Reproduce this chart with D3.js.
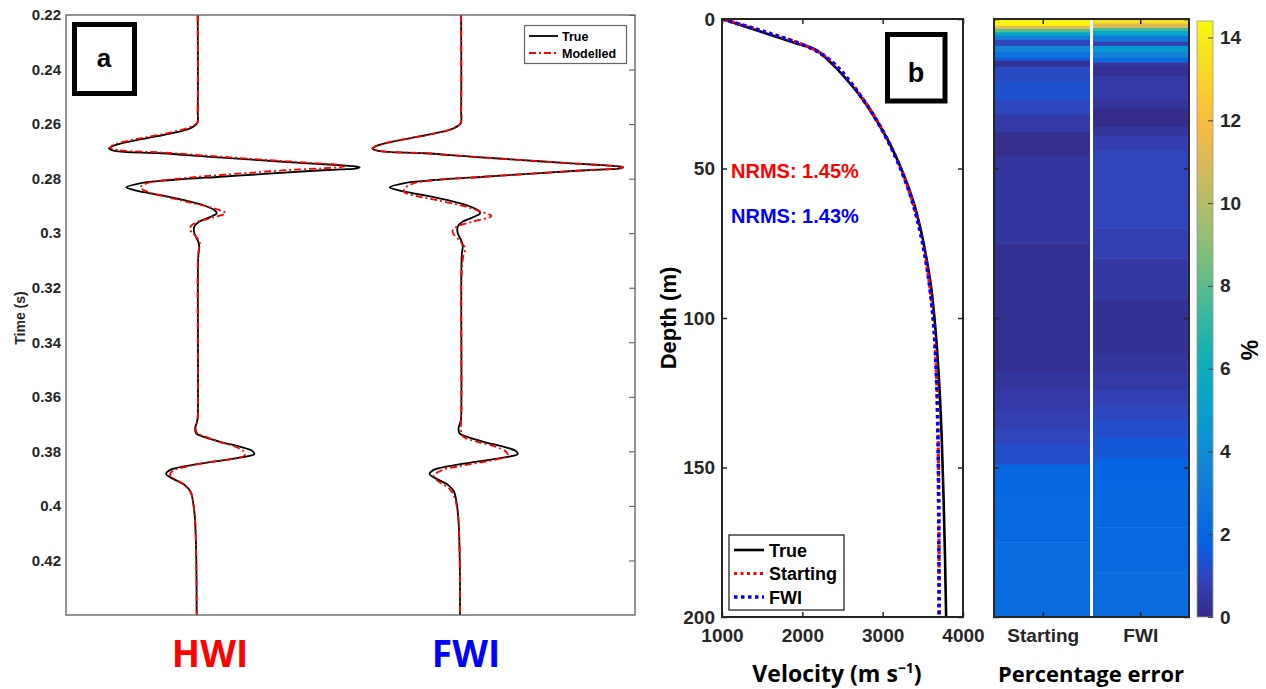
<!DOCTYPE html>
<html>
<head>
<meta charset="utf-8">
<script src="https://cdn.jsdelivr.net/npm/d3@7"></script>
<style>
  html, body { margin: 0; padding: 0; background: #fff; }
  svg { display: block; }
  text { font-family: "Liberation Sans", Arial, Helvetica, sans-serif; font-weight: bold; fill: #262626; }
  .title { font-family: "Open Sans", "Liberation Sans", sans-serif; fill: #000; }
</style>
</head>
<body>
<svg id="fig" width="1266" height="689"></svg>
<script>
// ---------------- data ----------------
// (a) seismic traces: time (s) and normalised amplitude
const traceNames = ["HWI", "FWI"];
const traceOffsets = [1, 2];
const timeTicks = [0.22, 0.24, 0.26, 0.28, 0.30, 0.32, 0.34, 0.36, 0.38, 0.40, 0.42];
const timeTickLabels = ["0.22", "0.24", "0.26", "0.28", "0.3", "0.32", "0.34", "0.36", "0.38", "0.4", "0.42"];

const trueTime = [0.22, 0.255, 0.2597, 0.2616, 0.2634, 0.2652, 0.2671, 0.2683, 0.2689, 0.2698, 0.2707, 0.2720, 0.2732, 0.2744, 0.2750, 0.2754, 0.2758, 0.2762, 0.2766, 0.2771, 0.2781, 0.2793, 0.2805, 0.2817, 0.2832, 0.2844, 0.2860, 0.2878, 0.2897, 0.2915, 0.2927, 0.2942, 0.2958, 0.2976, 0.2995, 0.3013, 0.3031, 0.3050, 0.3074, 0.312, 0.360, 0.3685, 0.3716, 0.3734, 0.3746, 0.3765, 0.3783, 0.3798, 0.3810, 0.3822, 0.3838, 0.3853, 0.3868, 0.3883, 0.3899, 0.3923, 0.3948, 0.3978, 0.4040, 0.4162, 0.44];
const trueAmp  = [0, 0, -0.002, -0.03, -0.10, -0.195, -0.29, -0.328, -0.337, -0.315, -0.137, 0.048, 0.233, 0.418, 0.53, 0.59, 0.615, 0.605, 0.545, 0.44, 0.283, 0.086, -0.10, -0.22, -0.271, -0.233, -0.145, -0.055, 0.02, 0.063, 0.072, 0.044, 0.005, -0.013, -0.014, -0.007, 0.002, 0.006, 0.003, 0.001, 0.001, -0.001, -0.010, -0.006, 0.021, 0.085, 0.160, 0.206, 0.215, 0.165, 0.060, -0.040, -0.104, -0.120, -0.097, -0.050, -0.027, -0.019, -0.011, -0.006, -0.004];

const hwiModTime = [0.22, 0.255, 0.2595, 0.2613, 0.2631, 0.2649, 0.2667, 0.2680, 0.2686, 0.2695, 0.2704, 0.2716, 0.2728, 0.2740, 0.2746, 0.2750, 0.2754, 0.2758, 0.2762, 0.2767, 0.2777, 0.2790, 0.2803, 0.2816, 0.2832, 0.2848, 0.2866, 0.2885, 0.2903, 0.2918, 0.2927, 0.2942, 0.2958, 0.2973, 0.2986, 0.3001, 0.3020, 0.3037, 0.3055, 0.309, 0.360, 0.3685, 0.3716, 0.3734, 0.3746, 0.3765, 0.3783, 0.3801, 0.3814, 0.3826, 0.3841, 0.3856, 0.3872, 0.3890, 0.3905, 0.3929, 0.3957, 0.3985, 0.4040, 0.4162, 0.44];
const hwiModAmp  = [0, 0, -0.002, -0.035, -0.105, -0.20, -0.29, -0.327, -0.332, -0.305, -0.14, 0.04, 0.21, 0.39, 0.49, 0.545, 0.56, 0.54, 0.48, 0.37, 0.22, 0.04, -0.10, -0.19, -0.218, -0.19, -0.123, -0.04, 0.04, 0.09, 0.106, 0.06, 0.0, -0.025, -0.030, -0.018, 0.0, 0.008, 0.005, 0.001, 0.001, -0.001, -0.008, -0.002, 0.028, 0.082, 0.144, 0.175, 0.179, 0.144, 0.036, -0.042, -0.096, -0.104, -0.080, -0.045, -0.023, -0.018, -0.011, -0.006, -0.004];

const fwiModTime = [0.22, 0.255, 0.2597, 0.2616, 0.2634, 0.2652, 0.2671, 0.2683, 0.2689, 0.2698, 0.2707, 0.2720, 0.2732, 0.2744, 0.2750, 0.2754, 0.2758, 0.2762, 0.2766, 0.2771, 0.2781, 0.2793, 0.2805, 0.2817, 0.2832, 0.2848, 0.2866, 0.2878, 0.2903, 0.2921, 0.2937, 0.2958, 0.2978, 0.2995, 0.3025, 0.3055, 0.3086, 0.314, 0.360, 0.3685, 0.3728, 0.3746, 0.3765, 0.3783, 0.3801, 0.3816, 0.3830, 0.3849, 0.3868, 0.3890, 0.3911, 0.3936, 0.3966, 0.4040, 0.4162, 0.44];
const fwiModAmp  = [0, 0, -0.002, -0.03, -0.10, -0.195, -0.29, -0.328, -0.337, -0.315, -0.137, 0.048, 0.233, 0.418, 0.53, 0.59, 0.615, 0.605, 0.545, 0.44, 0.283, 0.086, -0.10, -0.18, -0.21, -0.217, -0.16, -0.096, 0.018, 0.075, 0.115, 0.043, -0.02, -0.033, -0.008, 0.015, 0.008, 0.002, 0.001, 0.0, 0.0, 0.008, 0.062, 0.131, 0.170, 0.178, 0.131, 0.023, -0.070, -0.104, -0.085, -0.046, -0.026, -0.011, -0.006, -0.004];

// (b) velocity profiles: depth (m) and velocity (m/s)
const depthSamples = [0, 2, 5, 8, 10, 12, 15, 20, 25, 30, 40, 50, 60, 70, 80, 90, 100, 120, 140, 160, 180, 200];
const vTrue     = [1000, 1230, 1570, 1910, 2150, 2250, 2370, 2545, 2700, 2830, 3055, 3230, 3370, 3470, 3545, 3605, 3645, 3700, 3735, 3758, 3776, 3790];
const vStarting = [1000, 1260, 1620, 1950, 2130, 2260, 2400, 2570, 2710, 2840, 3055, 3225, 3360, 3460, 3535, 3590, 3630, 3672, 3690, 3698, 3702, 3704];
const vFwi      = [1000, 1255, 1615, 1945, 2125, 2255, 2395, 2565, 2705, 2835, 3050, 3222, 3357, 3457, 3532, 3588, 3628, 3670, 3688, 3696, 3700, 3702];
const velTicks = [1000, 2000, 3000, 4000];
const depthTicks = [0, 50, 100, 150, 200];
const profileNames = ["True", "Starting", "FWI"];
const nrmsLabels = ["NRMS: 1.45%", "NRMS: 1.43%"];

// percentage error per depth band: band tops (m) and error (%)
const errColumns = ["Starting", "FWI"];
const startTops = [0, 2.3, 3.3, 4.4, 5.5, 7, 9, 11, 13, 14, 16, 21, 27, 32, 38, 46, 75, 118, 124, 131, 137, 142, 149, 160, 175, 190];
const startErr  = [14.2, 11.5, 8, 5.5, 3.2, 1.0, 3.6, 2.6, 1.5, 0.25, 1.1, 1.3, 1.0, 0.6, 0.15, 0.45, 0.2, 0.4, 0.55, 0.75, 0.95, 1.2, 2.1, 2.15, 2.25, 2.3];
const fwiTops   = [0, 1.5, 3, 4, 5.5, 7.5, 9, 11, 13, 14.5, 16, 19, 27, 30, 36, 39, 44, 70, 80, 94, 112, 118, 124, 129, 134, 140, 147, 155, 170, 185];
const fwiErr    = [13.5, 11, 7.5, 5.5, 3, 0.8, 4.6, 3.4, 2.2, 0.4, 0.2, 0.6, 0.35, 0.05, 0.4, 0.7, 0.95, 0.75, 0.5, 0.25, 0.4, 0.6, 0.8, 1.0, 1.2, 1.5, 1.9, 2.1, 2.15, 2.25];
const cbarTicks = [0, 2, 4, 6, 8, 10, 12, 14];
const cbarMax = 14.4;

// ---------------- styling ----------------
const parula = ["#352a87", "#3243ba", "#0f5cdd", "#0363e1", "#0d75dc", "#1485d4", "#0998d1", "#06a7c6",
                "#15b1b4", "#38b99e", "#65be86", "#92bf73", "#b7bd64", "#d9ba56", "#f8ba44", "#fcce2e", "#f5e41d", "#f9fb0e"];
const parulaPos = [0, 0.0635, 0.111, 0.127, 0.19, 0.254, 0.317, 0.381, 0.444, 0.508, 0.571, 0.635, 0.698, 0.762, 0.825, 0.889, 0.952, 1];
const colour = d3.scaleLinear().domain(parulaPos.map(p => p * cbarMax)).range(parula).interpolate(d3.interpolateRgb).clamp(true);

const svg = d3.select("#fig");

function cleanAxis(g) { g.select(".domain").remove(); }

// ================= panel (a) =================
const A = { l: 66, r: 635, t: 15, b: 615 };
const xA = d3.scaleLinear().domain([0.5, 2.66]).range([A.l, A.r]);
const yA = d3.scaleLinear().domain([0.22, 0.44]).range([A.t, A.b]);
svg.append("clipPath").attr("id", "clipA").append("rect")
  .attr("x", A.l).attr("y", A.t).attr("width", A.r - A.l).attr("height", A.b - A.t);

const gA = svg.append("g");
function traceLine(offset) {
  return d3.line().x(d => xA(offset + d[1])).y(d => yA(d[0])).curve(d3.curveCatmullRom.alpha(0.5));
}
const trueData = d3.zip(trueTime, trueAmp);
const modData = [d3.zip(hwiModTime, hwiModAmp), d3.zip(fwiModTime, fwiModAmp)];
const gTr = gA.append("g").attr("clip-path", "url(#clipA)");
traceOffsets.forEach(off => {
  gTr.append("path").attr("d", traceLine(off)(trueData))
    .attr("fill", "none").attr("stroke", "#000").attr("stroke-width", 1.8);
});
traceOffsets.forEach((off, i) => {
  gTr.append("path").attr("d", traceLine(off)(modData[i]))
    .attr("fill", "none").attr("stroke", "#ff0000").attr("stroke-width", 1.8)
    .attr("stroke-dasharray", "7,3,2,3");
});

gA.append("g").attr("transform", `translate(${A.l},0)`)
  .call(d3.axisLeft(yA).tickValues(timeTicks).tickFormat((d, i) => timeTickLabels[i]).tickSize(0).tickPadding(5))
  .call(cleanAxis)
  .selectAll("text").style("font-size", "15px");
gA.append("g").attr("transform", `translate(${A.r},0)`)
  .call(d3.axisLeft(yA).tickValues(timeTicks).tickFormat("").tickSize(6))
  .call(cleanAxis)
  .selectAll("line").attr("stroke", "#555");
gA.append("rect").attr("x", A.l).attr("y", A.t).attr("width", A.r - A.l).attr("height", A.b - A.t)
  .attr("fill", "none").attr("stroke", "#666").attr("stroke-width", 1.4);

gA.append("text").attr("transform", "translate(25,318) rotate(-90)")
  .attr("text-anchor", "middle").style("font-size", "14px").text("Time (s)");

// legend (a)
const legA = gA.append("g");
legA.append("rect").attr("x", 524.5).attr("y", 25.5).attr("width", 102).attr("height", 38)
  .attr("fill", "#fff").attr("stroke", "#666").attr("stroke-width", 1.2);
[["True", "#000", null], ["Modelled", "#ff0000", "7,3,2,3"]].forEach((e, i) => {
  const y = 36 + i * 17;
  legA.append("line").attr("x1", 529).attr("x2", 558).attr("y1", y).attr("y2", y)
    .attr("stroke", e[1]).attr("stroke-width", 1.8).attr("stroke-dasharray", e[2]);
  legA.append("text").attr("x", 562).attr("y", y + 4.5).style("font-size", "12.5px").style("fill", "#000").text(e[0]);
});

// label box "a"
gA.append("rect").attr("x", 74.5).attr("y", 24.5).attr("width", 60).attr("height", 69)
  .attr("fill", "#fff").attr("stroke", "#000").attr("stroke-width", 5);
gA.append("text").attr("x", 104).attr("y", 67).attr("text-anchor", "middle")
  .style("font-size", "26px").style("fill", "#000").text("a");

// method names under the traces
const nameColours = ["#ff0000", "#0000ff"];
const nameCentres = [210, 466];
traceNames.forEach((n, i) => {
  svg.append("text").attr("class", "title").attr("x", nameCentres[i]).attr("y", 667)
    .attr("text-anchor", "middle").style("font-size", "37px").style("fill", nameColours[i]).text(n);
});

// ================= panel (b) =================
const B = { l: 722, r: 963, t: 19, b: 617 };
const xB = d3.scaleLinear().domain([1000, 4000]).range([B.l, B.r]);
const yB = d3.scaleLinear().domain([0, 200]).range([B.t, B.b]);
svg.append("clipPath").attr("id", "clipB").append("rect")
  .attr("x", B.l).attr("y", B.t).attr("width", B.r - B.l).attr("height", B.b - B.t);
const gB = svg.append("g");
const velLine = d3.line().x(d => xB(d[1])).y(d => yB(d[0])).curve(d3.curveMonotoneY);
const gProf = gB.append("g").attr("clip-path", "url(#clipB)");
const profStyles = [
  { c: "#000", w: 2.6, dash: null },
  { c: "#ff0000", w: 3.2, dash: "3,3.5" },
  { c: "#0000ff", w: 3.6, dash: "3.5,3.5" }
];
[vTrue, vStarting, vFwi].forEach((v, i) => {
  const s = profStyles[i];
  gProf.append("path").attr("d", velLine(d3.zip(depthSamples, v)))
    .attr("fill", "none").attr("stroke", s.c).attr("stroke-width", s.w)
    .attr("stroke-dasharray", s.dash).attr("stroke-dashoffset", i === 1 ? 3 : 0);
});

// axes (b)
gB.append("g").attr("transform", `translate(0,${B.b})`)
  .call(d3.axisBottom(xB).tickValues(velTicks).tickFormat(d3.format("d")).tickSize(0).tickPadding(12))
  .call(cleanAxis).selectAll("text").style("font-size", "19px");
gB.append("g").attr("transform", `translate(${B.l},0)`)
  .call(d3.axisLeft(yB).tickValues(depthTicks).tickSize(0).tickPadding(7))
  .call(cleanAxis).selectAll("text").style("font-size", "19px");
const innerTicksB = [
  [d3.axisTop(xB).tickValues(velTicks), `translate(0,${B.b})`],
  [d3.axisBottom(xB).tickValues(velTicks), `translate(0,${B.t})`],
  [d3.axisRight(yB).tickValues(depthTicks), `translate(${B.l},0)`],
  [d3.axisLeft(yB).tickValues(depthTicks), `translate(${B.r},0)`]
];
innerTicksB.forEach(([ax, tr]) => {
  gB.append("g").attr("transform", tr).call(ax.tickFormat("").tickSize(5)).call(cleanAxis)
    .selectAll("line").attr("stroke", "#262626").attr("stroke-width", 1.5);
});
gB.append("rect").attr("x", B.l).attr("y", B.t).attr("width", B.r - B.l).attr("height", B.b - B.t)
  .attr("fill", "none").attr("stroke", "#262626").attr("stroke-width", 2);

gB.append("text").attr("transform", "translate(676,318) rotate(-90)")
  .attr("text-anchor", "middle").style("font-size", "22px").style("fill", "#000").text("Depth (m)");
const vt = gB.append("text").attr("class", "title").attr("x", 837).attr("y", 682)
  .attr("text-anchor", "middle").style("font-size", "23px");
vt.append("tspan").text("Velocity (m s");
vt.append("tspan").attr("dy", -9).style("font-size", "14px").text("\u22121");
vt.append("tspan").attr("dy", 9).text(")");

// NRMS annotations
const nrmsColours = ["#ff0000", "#0000ff"];
nrmsLabels.forEach((t, i) => {
  gB.append("text").attr("x", 731).attr("y", 178 + i * 45).style("font-size", "20px")
    .style("fill", nrmsColours[i]).text(t);
});

// label box "b"
gB.append("rect").attr("x", 887.5).attr("y", 34.5).attr("width", 57.5).attr("height", 66.5)
  .attr("fill", "#fff").attr("stroke", "#000").attr("stroke-width", 5);
gB.append("text").attr("x", 916).attr("y", 82).attr("text-anchor", "middle")
  .style("font-size", "27px").style("fill", "#000").text("b");

// legend (b)
const legB = gB.append("g");
legB.append("rect").attr("x", 729).attr("y", 535).attr("width", 115).attr("height", 75)
  .attr("fill", "#fff").attr("stroke", "#262626").attr("stroke-width", 1.3);
profileNames.forEach((n, i) => {
  const y = 550 + i * 23.5, s = profStyles[i];
  legB.append("line").attr("x1", 734).attr("x2", 764).attr("y1", y).attr("y2", y)
    .attr("stroke", s.c).attr("stroke-width", s.w).attr("stroke-dasharray", s.dash);
  legB.append("text").attr("x", 769).attr("y", y + 6.5).style("font-size", "18px").style("fill", "#000").text(n);
});

// ================= percentage error map =================
const H = { l: 994, r: 1189 };
const xH = d3.scaleBand().domain(errColumns).range([H.l, H.r]).paddingInner(0);
const gH = svg.append("g");
[[startTops, startErr], [fwiTops, fwiErr]].forEach(([tops, errs], c) => {
  const col = errColumns[c];
  gH.append("g").selectAll("rect").data(tops).join("rect")
    .attr("x", xH(col)).attr("width", xH.bandwidth())
    .attr("y", d => yB(d))
    .attr("height", (d, i) => yB(i + 1 < tops.length ? tops[i + 1] : 200) - yB(d) + 0.5)
    .attr("fill", (d, i) => colour(errs[i]));
});
gH.append("line").attr("x1", xH("FWI")).attr("x2", xH("FWI")).attr("y1", B.t).attr("y2", B.b)
  .attr("stroke", "#fff").attr("stroke-width", 3);
const colCentre = d => xH(d) + xH.bandwidth() / 2;
const xHc = d3.scalePoint().domain(errColumns).range([colCentre("Starting"), colCentre("FWI")]);
gH.append("g").attr("transform", `translate(0,${B.b})`)
  .call(d3.axisBottom(xHc).tickSize(0).tickPadding(12)).call(cleanAxis)
  .selectAll("text").style("font-size", "19px");
const innerTicksH = [
  [d3.axisTop(xHc), `translate(0,${B.b})`],
  [d3.axisBottom(xHc), `translate(0,${B.t})`],
  [d3.axisRight(yB).tickValues(depthTicks), `translate(${H.l},0)`],
  [d3.axisLeft(yB).tickValues(depthTicks), `translate(${H.r},0)`]
];
innerTicksH.forEach(([ax, tr]) => {
  gH.append("g").attr("transform", tr).call(ax.tickFormat("").tickSize(5)).call(cleanAxis)
    .selectAll("line").attr("stroke", "#262626").attr("stroke-width", 1.5);
});
gH.append("rect").attr("x", H.l).attr("y", B.t).attr("width", H.r - H.l).attr("height", B.b - B.t)
  .attr("fill", "none").attr("stroke", "#262626").attr("stroke-width", 2);
gH.append("text").attr("class", "title").attr("x", 1091).attr("y", 682).attr("text-anchor", "middle")
  .style("font-size", "22px").text("Percentage error");

// colour bar
const C = { l: 1197, r: 1213, t: 21, b: 617 };
const yC = d3.scaleLinear().domain([0, cbarMax]).range([C.b, C.t]);
const grad = svg.append("defs").append("linearGradient").attr("id", "parulaGrad")
  .attr("x1", 0).attr("x2", 0).attr("y1", 1).attr("y2", 0);
parulaPos.forEach((p, i) => grad.append("stop").attr("offset", p).attr("stop-color", parula[i]));
const gC = svg.append("g");
gC.append("rect").attr("x", C.l).attr("y", C.t).attr("width", C.r - C.l).attr("height", C.b - C.t)
  .attr("fill", "url(#parulaGrad)").attr("stroke", "#999").attr("stroke-width", 0.8);
gC.append("g").attr("transform", `translate(${C.r},0)`)
  .call(d3.axisLeft(yC).tickValues(cbarTicks).tickFormat("").tickSize(5)).call(cleanAxis)
  .selectAll("line").attr("stroke", "#444");
gC.append("g").attr("transform", `translate(${C.r},0)`)
  .call(d3.axisRight(yC).tickValues(cbarTicks).tickSize(0).tickPadding(7)).call(cleanAxis)
  .selectAll("text").style("font-size", "19px");
gC.append("text").attr("transform", "translate(1258,350) rotate(-90)").attr("text-anchor", "middle")
  .style("font-size", "23px").style("fill", "#000").text("%");
</script>
</body>
</html>
